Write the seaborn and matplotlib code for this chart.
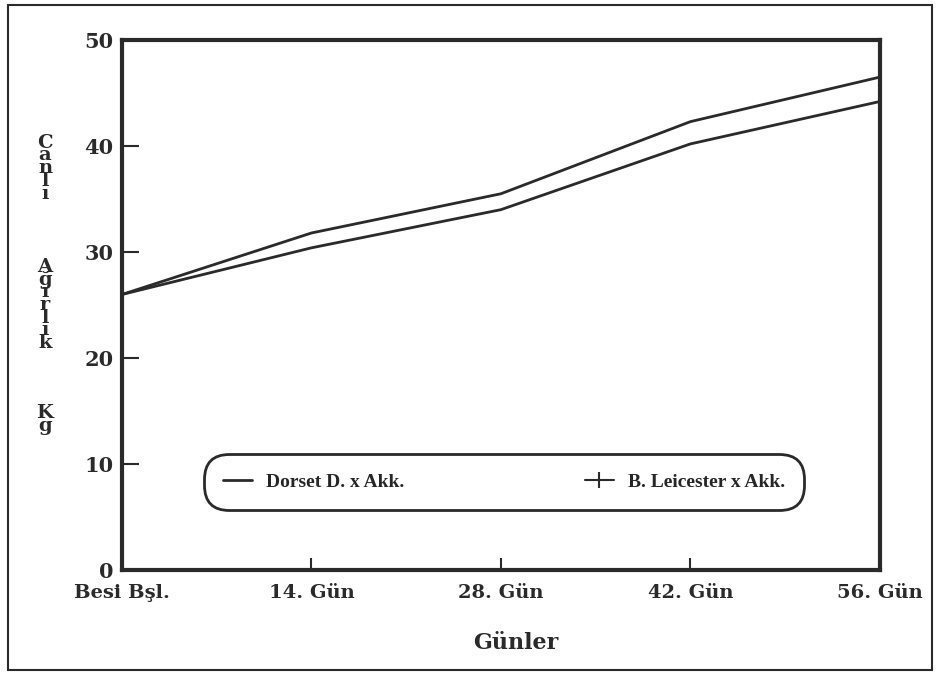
import pandas as pd
import seaborn as sns
import matplotlib.pyplot as plt
from matplotlib.lines import Line2D
from matplotlib.patches import Rectangle

# values
days = [0, 14, 28, 42, 56]
day_labels = ["Besi Bşl.", "14. Gün", "28. Gün", "42. Gün", "56. Gün"]
leicester = [26.0, 31.8, 35.5, 42.3, 46.5]
dorset = [26.0, 30.4, 34.0, 40.2, 44.2]
series_names = ["Dorset D. x Akk.", "B. Leicester x Akk."]

df = pd.DataFrame({
    "Gun": days * 2,
    "Agirlik": dorset + leicester,
    "Grup": [series_names[0]] * 5 + [series_names[1]] * 5,
})

sns.set_style("ticks")
plt.rcParams["font.family"] = ["DejaVu Serif"]

ink = "#2a2a2a"
fig = plt.figure(figsize=(9.38, 6.78), dpi=100)
ax = fig.add_axes([0.130, 0.159, 0.808, 0.782])

sns.lineplot(data=df, x="Gun", y="Agirlik", hue="Grup",
             palette={series_names[0]: ink, series_names[1]: ink},
             linewidth=2.0, legend=False, ax=ax)

ax.set_xlim(0, 56)
ax.set_ylim(0, 50)
ax.set_xticks(days)
ax.set_xticklabels(day_labels, fontsize=14, fontweight="bold", color=ink)
ax.set_yticks([0, 10, 20, 30, 40, 50])
ax.set_yticklabels(["0", "10", "20", "30", "40", "50"], fontsize=15,
                   fontweight="bold", color=ink)
ax.tick_params(axis="x", direction="in", length=9, width=1.5, pad=10, colors=ink)
ax.tick_params(axis="y", direction="in", length=12, width=1.5, pad=6, colors=ink)
ax.set_xlabel("")
ax.set_ylabel("")
for s in ax.spines.values():
    s.set_linewidth(3)
    s.set_color(ink)

# legend with rounded box
handles = [
    Line2D([], [], color=ink, lw=2),
    Line2D([], [], color=ink, lw=1.5, marker="|", markersize=11, markeredgewidth=1.5),
]
leg = ax.legend(handles, series_names, loc="center", bbox_to_anchor=(0.504, 0.166),
                ncol=2, frameon=True, fancybox=True, handlelength=1.5,
                handletextpad=0.7, columnspacing=9.3, borderpad=1.0,
                prop={"family": "Liberation Serif", "weight": "bold", "size": 14})
frame = leg.get_frame()
frame.set_boxstyle("round", pad=0, rounding_size=1.3)
frame.set_edgecolor(ink)
frame.set_linewidth(2)
frame.set_alpha(1)

# vertical stacked y label
for yy, word in [(0.752, "C\na\nn\nl\nı"), (0.550, "A\nğ\nı\nr\nl\nı\nk"), (0.381, "K\ng")]:
    fig.text(0.048, yy, word, ha="center", va="center", fontsize=14,
             fontweight="bold", linespacing=0.62, color=ink)

fig.text(0.55, 0.052, "Günler", ha="center", va="center", fontsize=16,
         fontweight="bold", color=ink)

# outer frame
fig.patches.append(Rectangle((0.009, 0.012), 0.985, 0.98, transform=fig.transFigure,
                             fill=False, edgecolor=ink, linewidth=1.5))

fig.savefig("out.png", dpi=100)
